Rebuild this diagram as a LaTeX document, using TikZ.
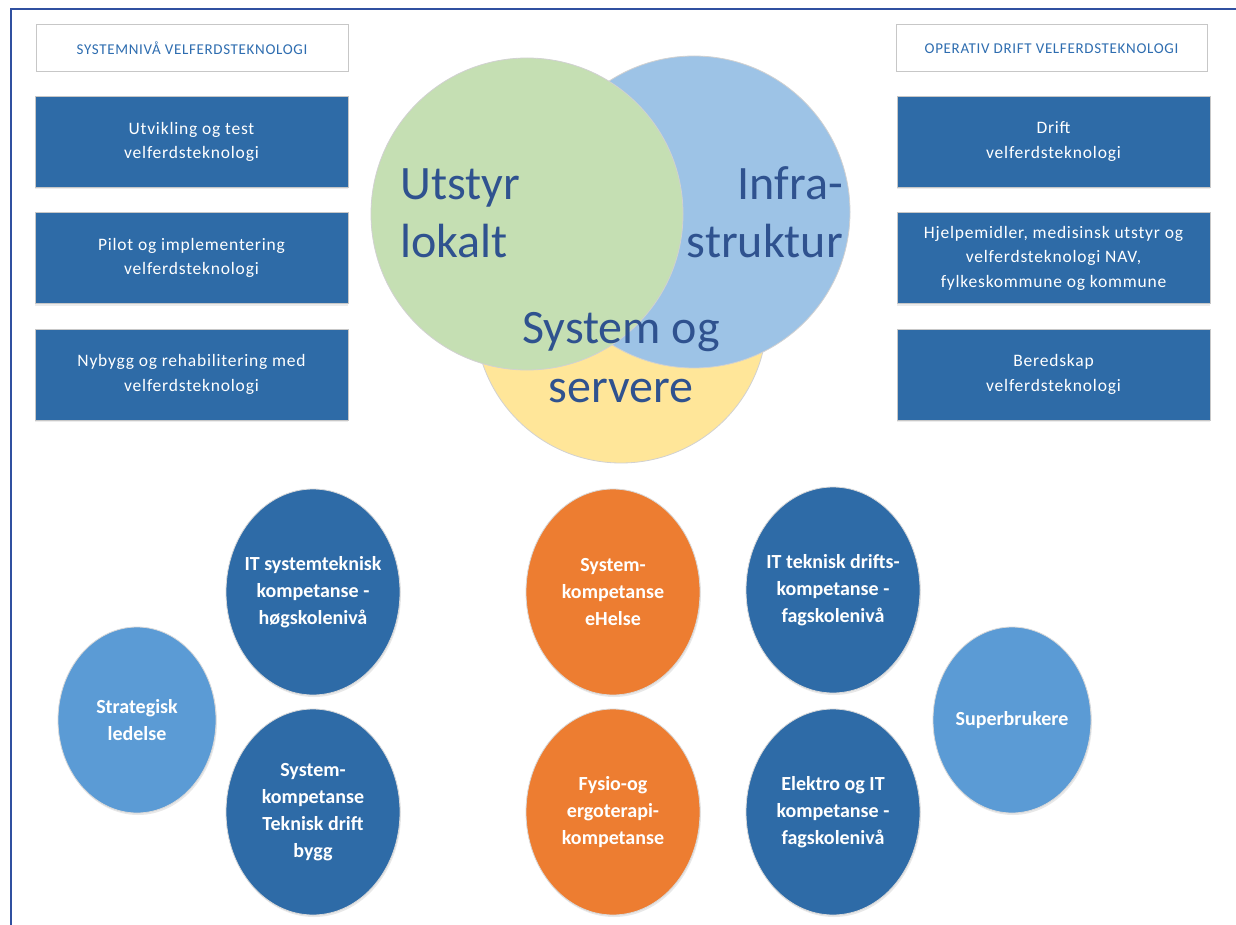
\documentclass[tikz,border=0pt]{standalone}
\usepackage{fontspec}
\setmainfont{Carlito}
\newfontfamily\spacedfont[LetterSpace=4.5]{Carlito}
\usetikzlibrary{shapes.geometric,shadows}
\definecolor{boxblue}{HTML}{2E6BA7}
\definecolor{hdrblue}{HTML}{2E6DB0}
\definecolor{frameblue}{HTML}{3050A0}
\definecolor{lightblue}{HTML}{5B9BD5}
\definecolor{orangec}{HTML}{ED7D31}
\definecolor{venngreen}{HTML}{C5DFB3}
\definecolor{vennblue}{HTML}{9DC3E6}
\definecolor{vennyellow}{HTML}{FFE699}
\definecolor{venntext}{HTML}{2F528F}
\begin{document}
\begin{tikzpicture}[x=1pt,y=-1pt,
  hdr/.style={draw=black!22, line width=1pt, fill=white, minimum width=312, minimum height=47,
    text=hdrblue, font=\spacedfont\fontsize{15}{17}\selectfont, inner sep=0pt},
  bluebox/.style={draw=black!22, line width=0.8pt, fill=boxblue, minimum width=313, minimum height=91,
    text=white, align=center, font=\spacedfont\fontsize{17.5}{24.5}\selectfont, inner sep=0pt,
    drop shadow={shadow xshift=0pt, shadow yshift=-2pt, opacity=0.15}},
  venn/.style={circle, draw=black!18, line width=0.8pt, inner sep=0pt},
  venntxt/.style={text=venntext, font=\fontsize{48}{58}\selectfont, inner sep=0pt},
  ctxt/.style={text=white, align=center, font=\bfseries\fontsize{20}{27}\selectfont, inner sep=0pt},
  bigc/.style={ellipse, minimum width=174, minimum height=206, draw=black!15, line width=0.8pt,
    inner sep=0pt, drop shadow={shadow xshift=1pt, shadow yshift=-2pt, opacity=0.18}},
  smallc/.style={ellipse, minimum width=158, minimum height=186, draw=black!15, line width=0.8pt,
    fill=lightblue, inner sep=0pt, drop shadow={shadow xshift=1pt, shadow yshift=-2pt, opacity=0.18}},
  frame/.style={draw=frameblue, line width=1.5pt}]
\useasboundingbox (0,0) rectangle (1236,925);
\fill[white] (0,0) rectangle (1236,925);
\draw[frame] (1236,9) -- (11,9) -- (11,925);

% headers
\node[hdr] (hl) at (192,48.5) {SYSTEMNIVÅ VELFERDSTEKNOLOGI};
\node[hdr, minimum width=311] (hr) at (1051.5,48.5) {OPERATIV DRIFT VELFERDSTEKNOLOGI};

% left boxes
\node[bluebox] (l1) at (191.5,142) {Utvikling og test\\velferdsteknologi};
\node[bluebox] (l2) at (191.5,258) {Pilot og implementering\\velferdsteknologi};
\node[bluebox] (l3) at (191.5,374.5) {Nybygg og rehabilitering med\\velferdsteknologi};

% right boxes
\node[bluebox] (r1) at (1053.5,141.5) {Drift\\velferdsteknologi};
\node[bluebox] (r2) at (1053.5,258) {Hjelpemidler, medisinsk utstyr og\\velferdsteknologi NAV,\\fylkeskommune og kommune};
\node[bluebox] (r3) at (1053.5,374.5) {Beredskap\\velferdsteknologi};

% venn
\node[venn, fill=vennyellow, minimum size=292] (vy) at (621,317) {};
\node[venn, fill=vennblue, minimum size=312] (vb) at (694,212) {};
\node[venn, fill=venngreen, minimum size=312] (vg) at (527,214) {};
\node[venntxt, anchor=base west] (t1) at (400,200) {Utstyr};
\node[venntxt, anchor=base west] (t2) at (400,258) {lokalt};
\node[venntxt, anchor=base east] (t3) at (843,200) {Infra-};
\node[venntxt, anchor=base east] (t4) at (843,258) {struktur};
\node[venntxt, anchor=base] (t5) at (621,343) {System og};
\node[venntxt, anchor=base] (t6) at (621,402) {servere};

% bottom circles
\node[smallc, label={[ctxt]center:{Strategisk\\ledelse}}] (c0) at (137,720) {};
\node[bigc, fill=boxblue, label={[ctxt]center:{IT systemteknisk\\kompetanse -\\høgskolenivå}}] (c1) at (313,592) {};
\node[bigc, fill=boxblue, label={[ctxt]center:{System-\\kompetanse\\Teknisk drift\\bygg}}] (c2) at (313,812) {};
\node[bigc, fill=orangec, label={[ctxt]center:{System-\\kompetanse\\eHelse}}] (c3) at (613,592) {};
\node[bigc, fill=orangec, label={[ctxt]center:{Fysio-og\\ergoterapi-\\kompetanse}}] (c4) at (613,812) {};
\node[bigc, fill=boxblue, label={[ctxt]center:{IT teknisk drifts-\\kompetanse -\\fagskolenivå}}] (c5) at (833,590) {};
\node[bigc, fill=boxblue, label={[ctxt]center:{Elektro og IT\\kompetanse -\\fagskolenivå}}] (c6) at (833,812) {};
\node[smallc, label={[ctxt]center:{Superbrukere}}] (c7) at (1012,720) {};
\end{tikzpicture}
\end{document}
